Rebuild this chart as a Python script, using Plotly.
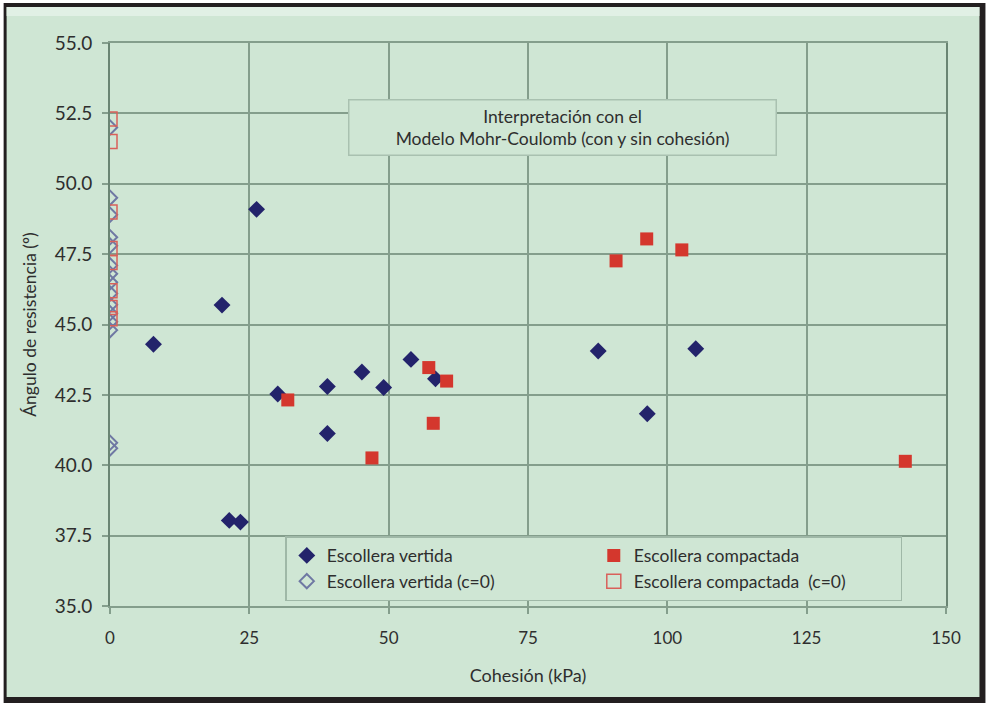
import plotly.graph_objects as go

# ---- data ----
vertida_x = [7.8, 20.1, 26.3, 21.4, 23.4, 30.1, 39.0, 39.0, 45.2, 49.1, 54.0, 58.4, 87.6, 96.4, 105.1]
vertida_y = [44.30, 45.69, 49.09, 38.04, 37.98, 42.53, 42.80, 41.13, 43.31, 42.76, 43.76, 43.07, 44.06, 41.83, 44.14]

compactada_x = [31.9, 47.0, 57.2, 60.4, 58.0, 90.8, 96.3, 102.6, 142.7]
compactada_y = [42.32, 40.26, 43.47, 42.99, 41.49, 47.26, 48.04, 47.65, 40.14]

vertida_c0_y = [52.0, 49.5, 48.9, 48.1, 47.8, 47.1, 46.8, 46.5, 46.1, 45.7, 45.4, 45.1, 44.8, 40.8, 40.6]
vertida_c0_x = [0.0] * len(vertida_c0_y)

compactada_c0_y = [52.3, 51.5, 49.0, 47.7, 47.2, 46.2, 45.6, 45.2]
compactada_c0_x = [0.0] * len(compactada_c0_y)

x_ticks = [0, 25, 50, 75, 100, 125, 150]
y_ticks = [35.0, 37.5, 40.0, 42.5, 45.0, 47.5, 50.0, 52.5, 55.0]

# ---- styling ----
W, H = 986, 703
L, R, T, B = 109.5, 39.5, 43, 97
pw, ph = W - L - R, H - T - B

def px(xp):
    return (xp - L) / pw

def py(yp):
    return (H - B - yp) / ph

BG = "#cfe6d4"
GRID = "#849e8c"
TXT = "#2e2e2e"
FONT = "Lato"
NAVY = "#23236b"
RED = "#d4372d"

fig = go.Figure()
fig.add_trace(go.Scatter(x=vertida_x, y=vertida_y, mode="markers", name="Escollera vertida",
                         marker=dict(symbol="diamond", size=13, color=NAVY)))
fig.add_trace(go.Scatter(x=compactada_x, y=compactada_y, mode="markers", name="Escollera compactada",
                         marker=dict(symbol="square", size=13, color=RED)))
fig.add_trace(go.Scatter(x=vertida_c0_x, y=vertida_c0_y, mode="markers", name="Escollera vertida (c=0)",
                         marker=dict(symbol="diamond-open", size=11, color="#6f78a3",
                                     line=dict(width=2, color="#6f78a3"))))
fig.add_trace(go.Scatter(x=compactada_c0_x, y=compactada_c0_y, mode="markers",
                         name="Escollera compactada  (c=0)",
                         marker=dict(symbol="square-open", size=14, color="#d9605a",
                                     line=dict(width=1.5, color="#d9605a"))))

shapes = [
    dict(type="rect", xref="paper", yref="paper", x0=px(3), x1=px(986), y0=py(3), y1=py(703),
         fillcolor="#231f20", line=dict(width=0), layer="below"),
    dict(type="rect", xref="paper", yref="paper", x0=px(6), x1=px(980), y0=py(7), y1=py(697),
         fillcolor=BG, line=dict(width=0), layer="below"),
    dict(type="rect", xref="paper", yref="paper", x0=px(6), x1=px(980), y0=py(7), y1=py(16),
         fillcolor="#e1f0e5", line=dict(width=0), layer="below"),
]

fig.update_layout(
    width=W, height=H,
    margin=dict(l=L, r=R, t=T, b=B, pad=0),
    paper_bgcolor="white", plot_bgcolor=BG,
    font=dict(family=FONT, color=TXT, size=16),
    shapes=shapes,
    showlegend=True,
    legend=dict(orientation="h", x=px(285), y=py(536), xanchor="left", yanchor="top",
                entrywidth=262, entrywidthmode="pixels",
                bgcolor=BG, bordercolor="#9fb8a7", borderwidth=1.5,
                font=dict(family=FONT, size=17.5, color=TXT),
                tracegroupgap=0, itemwidth=30),
    xaxis=dict(range=[0, 150], tickvals=x_ticks, ticktext=[str(v) for v in x_ticks],
               showgrid=True, gridcolor=GRID, gridwidth=2,
               zeroline=False, showline=True, linecolor=GRID, linewidth=2, mirror=True,
               ticks="outside", ticklen=6, tickcolor=GRID, tickwidth=1.5,
               ticklabelstandoff=10,
               tickfont=dict(family=FONT, size=17, color=TXT),
               title=dict(text="Cohesión (kPa)", font=dict(family=FONT, size=18, color=TXT),
                          standoff=22)),
    yaxis=dict(range=[35, 55], tickvals=y_ticks, ticktext=[f"{v:.1f}" for v in y_ticks],
               showgrid=True, gridcolor=GRID, gridwidth=2,
               zeroline=False, showline=True, linecolor="#6a8573", linewidth=2, mirror=True,
               ticks="outside", ticklen=6, tickcolor=GRID, tickwidth=1.5,
               ticklabelstandoff=6,
               tickfont=dict(family=FONT, size=19, color=TXT),
               title=dict(text="Ángulo de resistencia (º)", font=dict(family=FONT, size=17.5, color=TXT),
                          standoff=14)),
    annotations=[dict(
        xref="paper", yref="paper", x=px(563), y=py(127), xanchor="center", yanchor="middle",
        text="Interpretación con el<br>Modelo Mohr-Coulomb (con y sin cohesión)",
        showarrow=False, align="center",
        font=dict(family=FONT, size=17.5, color=TXT),
        bgcolor=BG, bordercolor="#a9c1b0", borderwidth=1.5,
        width=424, height=52,
    )],
)

fig.write_html("out.html")
